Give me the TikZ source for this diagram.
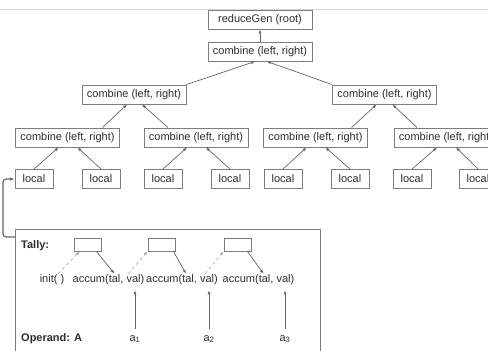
\documentclass[tikz,border=0pt]{standalone}
\usepackage{fontspec}
\setmainfont{Liberation Sans}
\usetikzlibrary{positioning, arrows.meta}
\definecolor{boxgray}{RGB}{125,125,125}
\definecolor{linegray}{RGB}{100,100,100}
\definecolor{inkdark}{RGB}{45,45,55}
\definecolor{rulegray}{RGB}{215,215,215}
\tikzset{
  opbox/.style={
    draw=boxgray, line width=0.9pt, fill=white, text=inkdark,
    font=\fontsize{11}{13}\selectfont,
    minimum width=104pt, minimum height=19pt, inner sep=2pt
  },
  leafbox/.style={opbox, minimum width=38pt},
  tallybox/.style={
    draw=boxgray, line width=0.9pt, fill=white,
    minimum width=27pt, minimum height=13pt, inner sep=0pt
  },
  lbl/.style={text=inkdark, font=\fontsize{11}{13}\selectfont, inner sep=1pt},
  lblbold/.style={lbl, font=\fontsize{11}{13}\selectfont\bfseries},
  rel/.style={-{Latex[length=4pt,width=3pt]}, linegray, line width=0.7pt},
  reldash/.style={rel, dashed, draw=linegray!55},
  link/.style={-{Latex[length=4.5pt,width=3.5pt]}, linegray, line width=1.1pt, rounded corners=3pt}
}

\begin{document}
\begin{tikzpicture}[x=1pt, y=-1pt]
  \useasboundingbox (0,0) rectangle (488,351);
  \clip (0,0) rectangle (488,351);
  \draw[rulegray, line width=0.8pt] (0,9) -- (488,9);

  % reduction tree
  \node[opbox] (root) at (260,19.5) {reduceGen (root)};
  \node[opbox] (c0) at (260,51.5) {combine (left, right)};
  \node[opbox] (c1) at (134,94.5) {combine (left, right)};
  \node[opbox] (c2) at (384.5,94.5) {combine (left, right)};
  \node[opbox] (c11) at (67.5,137.5) {combine (left, right)};
  \node[opbox] (c12) at (196,137.5) {combine (left, right)};
  \node[opbox] (c21) at (315.5,137.5) {combine (left, right)};
  \node[opbox] (c22) at (446,137.5) {combine (left, right)};

  \node[leafbox] (l1) at (34,179) {local};
  \node[leafbox] (l2) at (101,179) {local};
  \node[leafbox] (l3) at (163,179) {local};
  \node[leafbox] (l4) at (230,179) {local};
  \node[leafbox] (l5) at (283,179) {local};
  \node[leafbox] (l6) at (350,179) {local};
  \node[leafbox] (l7) at (412,179) {local};
  \node[leafbox] (l8) at (478,179) {local};

  \draw[rel] (c0) -- (root);
  \draw[rel] (c1.north east) -- ([xshift=-5pt]c0.south);
  \draw[rel] (c2.north west) -- ([xshift=7pt]c0.south);
  \draw[rel] ([xshift=35pt]c11.north) -- ([xshift=-7pt]c1.south);
  \draw[rel] ([xshift=-28pt]c12.north) -- ([xshift=8pt]c1.south);
  \draw[rel] ([xshift=36pt]c21.north) -- ([xshift=-8pt]c2.south);
  \draw[rel] ([xshift=-29pt]c22.north) -- ([xshift=8pt]c2.south);
  \draw[rel] (l1.north) -- ([xshift=-9pt]c11.south);
  \draw[rel] (l2.north) -- ([xshift=10pt]c11.south);
  \draw[rel] (l3.north) -- ([xshift=-9pt]c12.south);
  \draw[rel] (l4.north) -- ([xshift=10pt]c12.south);
  \draw[rel] (l5.north) -- ([xshift=-9pt]c21.south);
  \draw[rel] (l6.north) -- ([xshift=10pt]c21.south);
  \draw[rel] (l7.north) -- ([xshift=-9pt]c22.south);
  \draw[rel] (l8.north) -- ([xshift=10pt]c22.south);

  % local accumulation
  \node[draw=boxgray, line width=0.9pt, minimum width=305pt, minimum height=140pt,
        inner sep=0pt, anchor=north west] (panel) at (15,229) {};
  \draw[link] ([yshift=-8pt]panel.north west) -- ++(-12,0) |- (l1.west);

  \node[lblbold, anchor=west] (tally) at (20,246) {Tally:};
  \node[lblbold, anchor=west] (operand) at (20,339) {Operand: A};

  \node[tallybox] (t1) at (87.5,244.5) {};
  \node[tallybox] (t2) at (161.5,244.5) {};
  \node[tallybox] (t3) at (237.5,244.5) {};

  \node[lbl] (init) at (52,280) {init( )};
  \node[lbl] (acc1) at (108.5,280) {accum(tal, val)};
  \node[lbl] (acc2) at (182,280) {accum(tal, val)};
  \node[lbl] (acc3) at (258.5,280) {accum(tal, val)};

  \node[lbl] (a1) at (135,339) {a\textsubscript{1}};
  \node[lbl] (a2) at (209,339) {a\textsubscript{2}};
  \node[lbl] (a3) at (285,339) {a\textsubscript{3}};

  \draw[reldash] ([xshift=6pt]init.north) -- ([xshift=6pt]t1.south west);
  \draw[rel] ([xshift=-5pt]t1.south east) -- ([xshift=6pt]acc1.north);
  \draw[reldash] ([xshift=20pt]acc1.north) -- (t2.south west);
  \draw[rel] ([xshift=-2pt]t2.south east) -- ([xshift=4pt]acc2.north);
  \draw[reldash] ([xshift=23pt]acc2.north) -- (t3.south west);
  \draw[rel] ([xshift=-4pt]t3.south east) -- ([xshift=5pt]acc3.north);

  \draw[rel] ([yshift=5pt]a1.north) -- ([xshift=26.5pt,yshift=-4pt]acc1.south);
  \draw[rel] ([yshift=5pt]a2.north) -- ([xshift=27pt,yshift=-4pt]acc2.south);
  \draw[rel] ([yshift=5pt]a3.north) -- ([xshift=26.5pt,yshift=-4pt]acc3.south);
\end{tikzpicture}
\end{document}
